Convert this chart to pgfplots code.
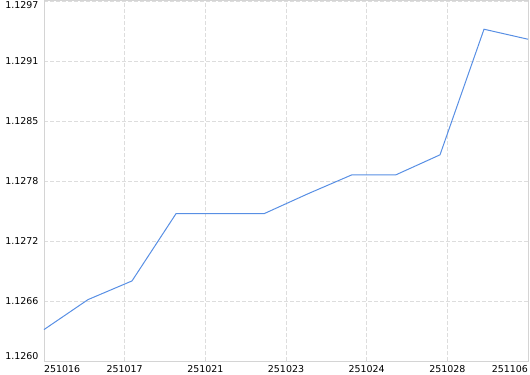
\documentclass[border=0pt]{standalone}
\usepackage{pgfplots}
\pgfplotsset{compat=1.18}
\usepackage{fontspec}
\setmainfont{DejaVu Sans}
\definecolor{linec}{RGB}{88,143,228}
\definecolor{gridc}{RGB}{221,221,221}
\definecolor{axc}{RGB}{212,212,212}
\begin{document}
\begin{tikzpicture}[x=1bp,y=1bp]
\useasboundingbox (0,0) rectangle (530,374);
\begin{axis}[
  at={(44bp,13bp)}, anchor=south west,
  scale only axis, width=484bp, height=360bp,
  xmin=0, xmax=11, ymin=1.1260, ymax=1.1297,
  xtick={0,1.833333,3.666667,5.5,7.333333,9.166667,11},
  xticklabels={\makebox[0pt][l]{251016},251017,251021,251023,251024,251028,\makebox[0pt][r]{251106}},
  ytick={1.1260,1.12661667,1.12723333,1.12785,1.12846667,1.12908333,1.1297},
  yticklabels={\raisebox{5bp}{1.1260},1.1266,1.1272,1.1278,1.1285,1.1291,\raisebox{-4bp}{1.1297}},
  major tick length=0pt,
  tick label style={font=\fontsize{9.5}{11}\selectfont, text=black},
  yticklabel style={anchor=base east, yshift=-3.5bp, xshift=-2bp},
  xticklabel style={yshift=-1bp},
  grid=major,
  major grid style={gridc, dash pattern=on 4bp off 2bp, line width=0.9bp},
  axis line style={axc, line width=1bp},
  clip=false,
]
\addplot[linec, line width=1bp] coordinates {
(0,1.126323) (1,1.126631) (2,1.126823) (3,1.127514) (4,1.127514) (5,1.127514)
(6,1.127719) (7,1.127914) (8,1.127914) (9,1.128119) (10,1.129410) (11,1.129307)
};
\end{axis}
\end{tikzpicture}
\end{document}
